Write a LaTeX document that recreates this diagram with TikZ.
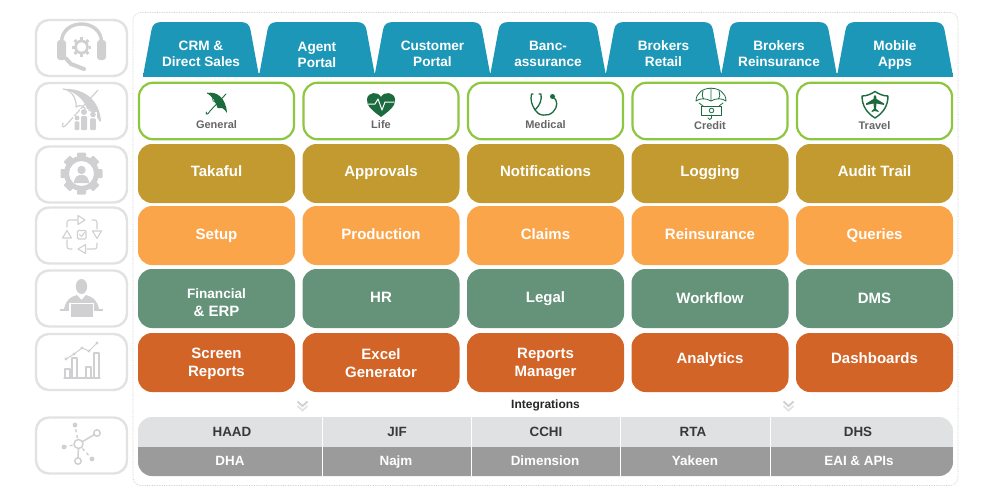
\documentclass[tikz,border=0pt]{standalone}
\usepackage{fontspec}
\setmainfont{Liberation Sans}
\usetikzlibrary{calc}
\definecolor{tealtab}{HTML}{1D97B7}
\definecolor{limeb}{HTML}{8DC63F}
\definecolor{goldc}{HTML}{C39A30}
\definecolor{orangec}{HTML}{FBA54B}
\definecolor{greenc}{HTML}{65937A}
\definecolor{rustc}{HTML}{D26427}
\definecolor{greyicon}{HTML}{D0D0D2}
\definecolor{frameg}{HTML}{E2E2E2}
\definecolor{lightbar}{HTML}{E0E1E3}
\definecolor{darkbar}{HTML}{9B9B9B}
\definecolor{leafg}{HTML}{1B6B3F}
\definecolor{labelg}{HTML}{666666}
\tikzset{x=1pt,y=-1pt,
 cellbox/.style={minimum width=157pt,minimum height=59pt,rounded corners=14pt,inner sep=0pt},
 gold/.style={cellbox,fill=goldc}, orng/.style={cellbox,fill=orangec},
 sage/.style={cellbox,fill=greenc}, rust/.style={cellbox,fill=rustc},
 celltext/.style={align=center,text=white,inner sep=0pt,font=\bfseries\fontsize{15}{18}\selectfont},
 prod/.style={cellbox,draw=limeb,line width=2.2pt,fill=white,minimum width=155pt,minimum height=56.5pt},
 prodlabel/.style={text=labelg,font=\bfseries\fontsize{11}{12}\selectfont,inner sep=0pt},
 iconbox/.style={draw=frameg,line width=2.4pt,rounded corners=13pt,fill=white,minimum width=91pt,minimum height=56pt,inner sep=0pt},
 tablabel/.style={text=white,align=center,font=\bfseries\fontsize{13.6}{16}\selectfont,inner sep=0pt},
 barlabel/.style={font=\bfseries\fontsize{13.4}{14}\selectfont,inner sep=0pt},
 ic/.style={draw=greyicon,line cap=round,line join=round},
 gi/.style={draw=leafg,line width=1.1pt,line cap=round,line join=round}}
\newcommand{\tabshape}[1]{%
 \fill[tealtab] (#1-58,76) -- (#1-49.5,30) .. controls (#1-48.5,24) and (#1-45,22) .. (#1-39,22)
  -- (#1+39,22) .. controls (#1+45,22) and (#1+48.5,24) .. (#1+49.5,30) -- (#1+58,76) -- cycle;}
\begin{document}
\begin{tikzpicture}
\useasboundingbox (0,0) rectangle (1000,498);
\fill[white] (0,0) rectangle (1000,498);
% outer frame
\node[draw=black!20,densely dotted,line width=.7pt,rounded corners=8pt,minimum width=825pt,minimum height=473pt,inner sep=0pt] (outer) at (545.5,249) {};
% tabs
\foreach \cx in {201,317,432.5,548,663.5,779,895}{\tabshape{\cx}}
\fill[tealtab] (143,73) rectangle (953,76.5);
\foreach \cx/\cy/\tx [count=\i] in {201/53.5/{CRM \&\\Direct Sales},317/54.5/{Agent\\Portal},432.5/53.5/{Customer\\Portal},548/53.5/{Banc-\\assurance},663.5/53.5/{Brokers\\Retail},779/53.5/{Brokers\\Reinsurance},895/54.5/{Mobile\\Apps}}{
 \node[tablabel] (tab\i) at (\cx,\cy) {\tx};}
% left icon boxes
\node[iconbox] (ib1) at (81.5,48) {};
\node[iconbox] (ib2) at (81.5,111) {};
\node[iconbox] (ib3) at (81.5,174.5) {};
\node[iconbox] (ib4) at (81.5,235.5) {};
\node[iconbox] (ib5) at (81.5,298.5) {};
\node[iconbox] (ib6) at (81.5,362) {};
\node[iconbox] (ib7) at (81.5,445.5) {};
% rows
\foreach \cx/\tx [count=\i] in {216.5/General,381/Life,545.5/Medical,710/Credit,874.5/Travel}{
 \node[prod] (p\i) at (\cx,111) {};
 \node[prodlabel] (pl\i) at (\cx,\ifnum\i>3 125.7\else 124.7\fi) {\tx};}
\foreach \cx/\tx [count=\i] in {216.5/Takaful,381/Approvals,545.5/Notifications,710/Logging,874.5/Audit Trail}{
 \node[gold] (a\i) at (\cx,173.5) {};
 \node[celltext] (at\i) at (\cx,172.5) {\vphantom{Ag}\tx};}
\foreach \cx/\tx [count=\i] in {216.5/Setup,381/Production,545.5/Claims,710/Reinsurance,874.5/Queries}{
 \node[orng] (b\i) at (\cx,235.5) {};
 \node[celltext] (bt\i) at (\cx,236) {\vphantom{Ag}\tx};}
\foreach \cx/\ty/\tx [count=\i] in {216.5/302/{\fontsize{13.6}{17}\selectfont Financial\\\& ERP},381/298.5/HR,545.5/298.5/Legal,710/299.5/Workflow,874.5/299.5/DMS}{
 \node[sage] (c\i) at (\cx,298.5) {};
 \node[celltext] (ct\i) at (\cx,\ty) {\vphantom{Ag}\tx};}
\foreach \cx/\ty/\tx [count=\i] in {216.5/363.5/{Screen\\Reports},381/363.5/{Excel\\Generator},545.5/363.5/{Reports\\Manager},710/359.5/Analytics,874.5/359.5/Dashboards}{
 \node[rust] (d\i) at (\cx,362.5) {};
 \node[celltext] (dt\i) at (\cx,\ty) {\vphantom{Ag}\tx};}
% integrations
\node[font=\bfseries\fontsize{12}{12}\selectfont,inner sep=0pt,text=black!85] (intg) at (545.5,405.5) {Integrations};
\foreach \x in {302.5,788.5}{
 \draw[draw=greyicon,line width=1.8pt] (\x-5,401.5) -- (\x,406) -- (\x+5,401.5);
 \draw[draw=greyicon!60,line width=1.8pt] (\x-5,406) -- (\x,410.5) -- (\x+5,406);}
% bars
\path[fill=lightbar,rounded corners=14pt] (138,447) -- (138,417) -- (953,417) -- (953,447) -- cycle;
\fill[lightbar] (138,435) rectangle (953,447);
\path[fill=darkbar,rounded corners=14pt] (138,447) -- (138,476) -- (953,476) -- (953,447) -- cycle;
\fill[darkbar] (138,447) rectangle (953,458);
\foreach \x in {322,471.5,620.5,770}{\draw[white,line width=1pt] (\x,417) -- (\x,476);}
\foreach \cx/\tx [count=\i] in {232/HAAD,397/JIF,546/CCHI,693/RTA,858/DHS}{
 \node[barlabel,text=black!78] (h\i) at (\cx,433.7) {\vphantom{Ag}\tx};}
\foreach \cx/\tx [count=\i] in {230/DHA,396/Najm,545/Dimension,695/Yakeen,859/EAI \& APIs}{
 \node[barlabel,text=white] (l\i) at (\cx,462) {\vphantom{Ag}\tx};}
% ---- icon 1 headset
\draw[draw=greyicon,line width=3.4pt] (61.5,42) .. controls (62,18) and (101,18) .. (101.5,42);
\fill[greyicon,rounded corners=3pt] (57,40) rectangle (66,60);
\fill[greyicon,rounded corners=3pt] (97,40) rectangle (106,60);
\draw[draw=greyicon,line width=2.6pt] (81.5,47) circle (6pt);
\foreach \a in {0,45,...,315}{\fill[greyicon,rotate around={\a:(81.5,47)}] (80,37.2) rectangle (83,40);}
\draw[draw=greyicon,line width=4pt,line cap=round] (66,58.5) -- (71,64) -- (84,69);
% ---- icon 2 umbrella family
\draw[ic,line width=1.2pt,fill=white] (63,89) .. controls (74,90) and (77,103) .. (76,107)
 .. controls (80,104) and (84,106) .. (86,110) .. controls (90,109) and (96,113) .. (100,121);
\fill[greyicon] (64,89) .. controls (84,88) and (100,100) .. (101,122) .. controls (97,114) and (92,109) .. (87,109) .. controls (85,101) and (76,92) .. (64,89) -- cycle;
\draw[ic,line width=1.2pt] (98,90) -- (67,124) .. controls (64,128) and (61,128) .. (63,123);
\foreach \x/\y/\s in {77/118/2.4,84/112/3,93/114.5/2.8}{
 \fill[white] (\x-\s-1.3,\y-\s) rectangle (\x+\s+1.3,131);
 \fill[greyicon] (\x,\y) circle (\s pt);
 \fill[greyicon,rounded corners=1pt] (\x-\s,\y+\s+1) rectangle (\x+\s,130);}
% ---- icon 3 gear
\fill[greyicon,even odd rule] (81.5,173.5) circle (17.5pt) (81.5,173.5) circle (12.5pt);
\foreach \a in {0,45,...,315}{\fill[greyicon,rotate around={\a:(81.5,173.5)},rounded corners=1pt] (77,152.5) rectangle (86,160);}
\fill[greyicon] (81.5,170) circle (4.2pt);
\fill[greyicon] (74,183) .. controls (74.5,176) and (78,175) .. (81.5,175) .. controls (85,175) and (88.5,176) .. (89,183) -- cycle;
% ---- icon 4 cycle
\draw[ic,line width=1.1pt,rounded corners=2.5pt] (67,227) -- (67,220) -- (77,220);
\draw[ic,line width=1.1pt] (78,215.5) -- (85,220) -- (78,224.5) -- cycle;
\draw[ic,line width=1.1pt,rounded corners=2.5pt] (92,220) -- (97,220) -- (97,229);
\draw[ic,line width=1.1pt] (92.5,231) -- (101.5,231) -- (97,238.5) -- cycle;
\draw[ic,line width=1.1pt,rounded corners=2.5pt] (97,243) -- (97,249) -- (87,249);
\draw[ic,line width=1.1pt] (85.5,244.5) -- (78,249) -- (85.5,253.5) -- cycle;
\draw[ic,line width=1.1pt,rounded corners=2.5pt] (72,249) -- (67,249) -- (67,240);
\draw[ic,line width=1.1pt] (62.5,238) -- (71.5,238) -- (67,230.5) -- cycle;
\draw[ic,line width=1.1pt,rounded corners=1pt] (77.5,230.5) rectangle (86,239);
\draw[ic,line width=1pt] (79.5,234.5) -- (81.5,236.5) -- (84.5,232.5);
% ---- icon 5 person laptop
\fill[greyicon] (81.5,286.5) ellipse (5.7pt and 7.5pt);
\fill[greyicon] (64,309) .. controls (66,300) and (70,297) .. (77,295) -- (81.5,300) -- (86,295) .. controls (93,297) and (97,300) .. (99,309) -- cycle;
\draw[draw=greyicon,line width=1.2pt] (60,310) -- (103,310);
\fill[white] (69,302.5) rectangle (94,318);
\fill[greyicon] (70.5,304) rectangle (92.5,317);
% ---- icon 6 bars chart
\draw[ic,line width=1.2pt] (64,378) -- (100,378);
\foreach \x/\tp in {65/369,72/358,86/367,94/353}{\draw[ic,line width=1.1pt,line cap=butt] (\x,378) -- (\x,\tp) -- (\x+5,\tp) -- (\x+5,378);}
\draw[draw=greyicon,line width=1pt] (66,359) -- (74,354) -- (82,348) -- (89,351) -- (97,343);
\foreach \x/\y in {66/359,74/354,82/348,89/351,97/343}{\fill[greyicon] (\x,\y) circle (1.6pt);}
% ---- icon 7 network
\draw[draw=greyicon,line width=1.5pt] (78.5,444) -- (97,433);
\draw[draw=greyicon,line width=1.5pt] (78.5,444) -- (78,461);
\draw[draw=greyicon,line width=1.4pt,dashed] (78.5,444) -- (75,425);
\draw[draw=greyicon,line width=1.4pt,dashed] (78.5,444) -- (64,447);
\draw[draw=greyicon,line width=1.4pt,dashed] (78.5,444) -- (92,459);
\foreach \x/\y/\r in {78.5/444/4.5,97/433/3.2,78/461/3.2}{\draw[draw=greyicon,line width=1.5pt,fill=white] (\x,\y) circle (\r pt);}
\foreach \x/\y in {75/425,64/447,92/459}{\fill[greyicon] (\x,\y) circle (2.4pt);}
% ---- product icons
% umbrella
\fill[leafg] (207,93) .. controls (217,91) and (226,98) .. (227,113) .. controls (224,108) and (221,107) .. (218,108) .. controls (216,102) and (212,96) .. (207,93) -- cycle;
\draw[draw=leafg,line width=.7pt] (207,93) .. controls (211,94) and (213,97) .. (213,101) .. controls (215,101) and (217,104) .. (218,108);
\draw[gi,line width=.9pt] (226,94) -- (210,111) .. controls (208,115) and (205,115) .. (206.5,112);
% heart
\fill[leafg] (381,117) .. controls (373,111) and (366,106) .. (367,99) .. controls (368,92) and (378,91) .. (381,97) .. controls (384,91) and (394,92) .. (395,99) .. controls (396,106) and (389,111) .. (381,117) -- cycle;
\draw[white,line width=1pt,line join=round] (368,104) -- (375,104) -- (378,99) -- (382,110) -- (385,102) -- (394,102);
% stethoscope
\draw[gi,line width=1.3pt] (533,94) -- (531.5,94) .. controls (530,100) and (532,105) .. (535,110) .. controls (538,116) and (548,117) .. (553,112) .. controls (558,107) and (558,100) .. (553,97);
\draw[gi,line width=1.3pt] (539,94) -- (541,94) .. controls (542,100) and (540,105) .. (535,110);
\fill[leafg] (552.5,96.5) circle (2.5pt);
% credit umbrella
\draw[gi,line width=.8pt] (696,101) .. controls (696,84) and (726,84) .. (726,101) .. controls (722,98) and (716,98) .. (711,101) .. controls (706,98) and (700,98) .. (696,101) -- cycle;
\draw[gi,line width=.8pt] (711,88) -- (711,101) (703,91) .. controls (702,95) and (702,97) .. (703.5,99) (719,91) .. controls (720,95) and (720,97) .. (718.5,99);
\draw[gi,line width=.8pt] (699,103) -- (703,106) (723,103) -- (719,106);
\draw[gi,line width=.8pt] (701.5,106) rectangle (721.5,115);
\draw[gi,line width=.8pt] (711.5,110.5) circle (2.3pt);
\draw[gi,line width=.8pt] (711.5,115) -- (711.5,118) .. controls (711.5,120) and (708,120) .. (708,118);
% travel shield
\draw[gi,line width=1.4pt] (862,96) .. controls (867,96) and (871,94) .. (875,91.5) .. controls (879,94) and (883,96) .. (888,96) .. controls (888,106) and (883,113) .. (875,118) .. controls (867,113) and (862,106) .. (862,96) -- cycle;
\fill[leafg] (875,95) .. controls (876,95) and (876.5,97) .. (876.5,99) -- (884,103.5) -- (884,105) -- (876.5,103.5) -- (876,109) -- (878.5,111) -- (878.5,112) -- (875,111) -- (871.5,112) -- (871.5,111) -- (874,109) -- (873.5,103.5) -- (866,105) -- (866,103.5) -- (873.5,99) .. controls (873.5,97) and (874,95) .. (875,95) -- cycle;
\end{tikzpicture}
\end{document}
